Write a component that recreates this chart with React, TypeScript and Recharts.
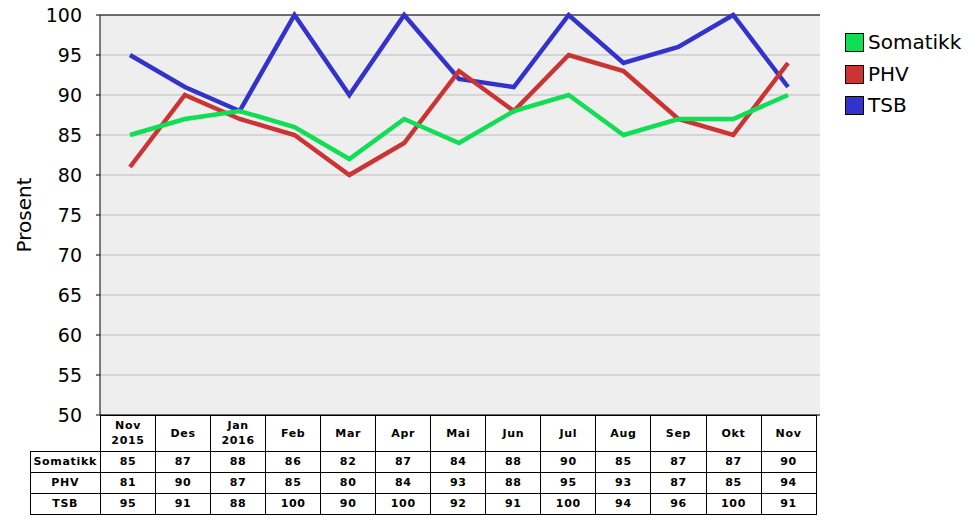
import { LineChart, Line, XAxis, YAxis, CartesianGrid, ReferenceLine } from 'recharts'

const months = ['Nov\n2015', 'Des', 'Jan\n2016', 'Feb', 'Mar', 'Apr', 'Mai', 'Jun', 'Jul', 'Aug', 'Sep', 'Okt', 'Nov']
const somatikk = [85, 87, 88, 86, 82, 87, 84, 88, 90, 85, 87, 87, 90]
const phv = [81, 90, 87, 85, 80, 84, 93, 88, 95, 93, 87, 85, 94]
const tsb = [95, 91, 88, 100, 90, 100, 92, 91, 100, 94, 96, 100, 91]
const yTicks = [50, 55, 60, 65, 70, 75, 80, 85, 90, 95, 100]

const series = [
  { key: 'somatikk', name: 'Somatikk', color: '#11dd55', values: somatikk },
  { key: 'phv', name: 'PHV', color: '#cc3333', values: phv },
  { key: 'tsb', name: 'TSB', color: '#3333cc', values: tsb },
]

const data = months.map((m, i) => ({
  month: m,
  somatikk: somatikk[i],
  phv: phv[i],
  tsb: tsb[i],
}))

const font = '"DejaVu Sans", Verdana, sans-serif'

const cell: React.CSSProperties = {
  border: '1px solid #000',
  padding: 0,
  textAlign: 'center',
  fontWeight: 'bold',
  fontSize: 11,
  letterSpacing: 0.7,
  overflow: 'hidden',
}

export default function App() {
  // draw order: blue at bottom, green on top
  const drawOrder = [series[2], series[1], series[0]]
  return (
    <div style={{ position: 'absolute', left: 0, top: 0, width: 979, height: 523, background: '#fff', fontFamily: font }}>
      <LineChart width={979} height={523} data={data} margin={{ top: 15, right: 159, left: 0, bottom: 108 }}>
        <CartesianGrid vertical={false} stroke="#bbbbbb" fill="#eeeeee" yAxisId="l" />
        <XAxis dataKey="month" hide padding={{ left: 30, right: 32 }} />
        <YAxis
          yAxisId="l"
          domain={[50, 100]}
          ticks={yTicks}
          width={100}
          interval={0}
          axisLine={{ stroke: '#000' }}
          tickLine={{ stroke: '#000' }}
          tickSize={4}
          tickMargin={14}
          tick={{ fill: '#000', fontSize: 19, fontFamily: font }}
          label={{ value: 'Prosent', angle: -90, position: 'insideLeft', offset: 24, style: { fill: '#000', fontSize: 20, fontFamily: font, textAnchor: 'middle' } }}
        />
        <YAxis yAxisId="r" orientation="right" domain={[50, 100]} width={0} tick={false} tickLine={false} axisLine={{ stroke: '#000' }} />
        <ReferenceLine yAxisId="l" y={100} stroke="#000" />
        <ReferenceLine yAxisId="l" y={50} stroke="#000" />
        {drawOrder.map((s) => (
          <Line
            key={s.key}
            yAxisId="l"
            type="linear"
            dataKey={s.key}
            stroke={s.color}
            strokeWidth={4.5}
            dot={false}
            isAnimationActive={false}
          />
        ))}
      </LineChart>

      <div style={{ position: 'absolute', left: 845, top: 33 }}>
        {series.map((s, i) => (
          <div key={s.key} style={{ position: 'absolute', left: 0, top: i * 31.5, display: 'flex', alignItems: 'center', whiteSpace: 'nowrap' }}>
            <div style={{ width: 17, height: 17, background: s.color, border: '1px solid #000' }} />
            <span style={{ marginLeft: 4, fontSize: 20, color: '#000', lineHeight: '19px' }}>{s.name}</span>
          </div>
        ))}
      </div>

      <table style={{ position: 'absolute', left: 29.5, top: 414.5, width: 786, borderCollapse: 'collapse', tableLayout: 'fixed', fontFamily: font, color: '#000' }}>
        <colgroup>
          <col style={{ width: 70.5 }} />
          {months.map((_, i) => (
            <col key={i} style={{ width: 55.05 }} />
          ))}
        </colgroup>
        <tbody>
          <tr style={{ height: 36 }}>
            <td style={{ padding: 0, border: 'none', borderRight: '1px solid #000' }} />
            {months.map((m, i) => (
              <td key={i} style={{ ...cell, lineHeight: '15px' }}>
                {m.split('\n').map((p, j) => (
                  <div key={j}>{p}</div>
                ))}
              </td>
            ))}
          </tr>
          {series.map((s) => (
            <tr key={s.key} style={{ height: 21 }}>
              <td style={cell}>{s.name}</td>
              {s.values.map((v, i) => (
                <td key={i} style={cell}>{v}</td>
              ))}
            </tr>
          ))}
        </tbody>
      </table>
    </div>
  )
}
